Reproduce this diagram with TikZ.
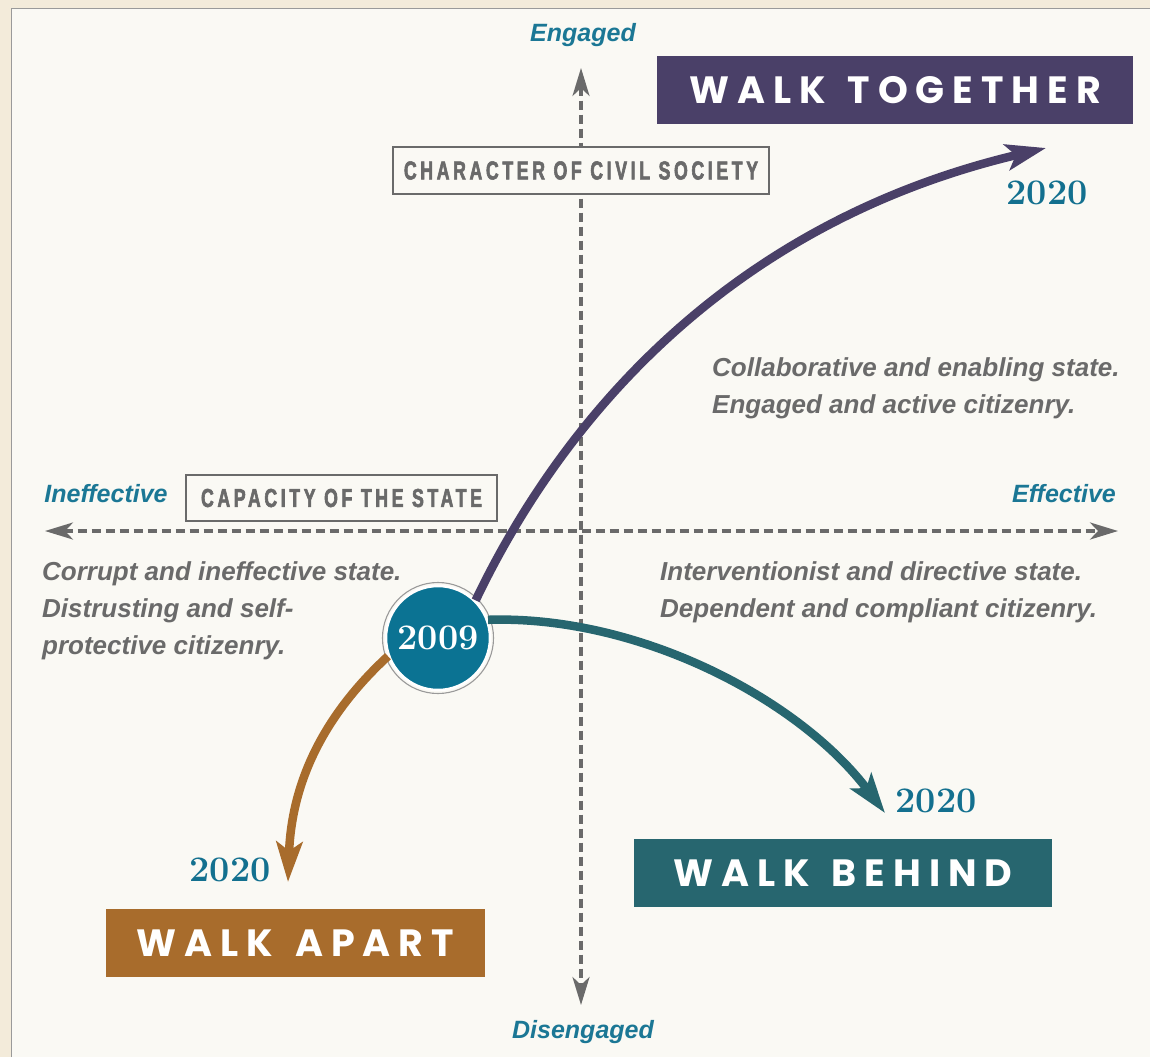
\documentclass[tikz,border=0pt]{standalone}
\usepackage{fontspec}
\newfontfamily\labelfont{Liberation Sans}
\newfontfamily\titlefont[LetterSpace=21]{Poppins}
\newfontfamily\boxfont[FakeStretch=0.68,FakeBold=2.2,LetterSpace=14]{Liberation Sans Bold}
\usetikzlibrary{arrows.meta}

\definecolor{paper}{HTML}{FAF9F4}
\definecolor{framebeige}{HTML}{F3EBDA}
\definecolor{framegray}{HTML}{9A9A9A}
\definecolor{axisgray}{HTML}{6A6A6A}
\definecolor{textgray}{HTML}{6A6A6A}
\definecolor{labelblue}{HTML}{1B7795}
\definecolor{yearblue}{HTML}{13708F}
\definecolor{circblue}{HTML}{0B7393}
\definecolor{togetherpurple}{HTML}{4A4068}
\definecolor{behindteal}{HTML}{27666F}
\definecolor{apartbrown}{HTML}{A86C2C}

\begin{document}
\begin{tikzpicture}[x=1pt,y=-1pt,
    axis/.style={draw=axisgray, line width=3.4pt, dash pattern=on 9pt off 5pt,
      {Stealth[length=28pt,width=17pt,inset=8pt]}-{Stealth[length=28pt,width=17pt,inset=8pt]}},
    axislabel/.style={text=labelblue, font=\labelfont\bfseries\itshape\fontsize{25}{30}\selectfont},
    dimbox/.style={draw=axisgray, line width=1.4pt, fill=paper, inner sep=0, text=textgray,
      font=\boxfont\fontsize{26}{30}\selectfont},
    desc/.style={anchor=north west, align=left, inner sep=0, text=textgray,
      font=\labelfont\bfseries\itshape\fontsize{26}{37}\selectfont},
    scenario/.style={minimum height=68pt, inner sep=0, text=white,
      font=\titlefont\bfseries\fontsize{38}{40}\selectfont},
    year/.style={text=yearblue, inner sep=0, font=\bfseries\fontsize{36}{40}\selectfont},
    trend/.style={line width=8.5pt, -{Stealth[length=40pt,width=26pt,inset=9pt]}}]
  \useasboundingbox (0,0) rectangle (1150,1057);

  % paper and frame
  \fill[framebeige] (0,0) rectangle (1150,1057);
  \fill[paper] (11,8) rectangle (1150,1057);
  \draw[framegray, line width=1.5pt] (11.5,1057) -- (11.5,8.5) -- (1150,8.5);

  % axes
  \coordinate (north) at (581,68);
  \coordinate (south) at (581,1005);
  \coordinate (west) at (45,531);
  \coordinate (east) at (1118,531);
  \draw[axis] (north) -- (south);
  \draw[axis] (west) -- (east);

  \node[axislabel] (engaged) at (583,35) {Engaged};
  \node[axislabel] (disengaged) at (583,1032) {Disengaged};
  \node[axislabel] (ineffective) at (106,494) {Ineffective};
  \node[axislabel] (effective) at (1064,494) {Effective};

  \node[dimbox, minimum width=376pt, minimum height=47pt] (character) at (581,170.5) {CHARACTER OF CIVIL SOCIETY};
  \node[dimbox, minimum width=311pt, minimum height=46pt] (capacity) at (341.5,498) {CAPACITY OF THE STATE};

  % quadrant descriptions
  \node[desc] (descTogether) at (712,357) {Collaborative and enabling state.\\Engaged and active citizenry.};
  \node[desc] (descBehind) at (660,561) {Interventionist and directive state.\\Dependent and compliant citizenry.};
  \node[desc] (descApart) at (42,561) {Corrupt and ineffective state.\\Distrusting and self-\\protective citizenry.};

  % scenarios
  \node[scenario, fill=togetherpurple, minimum width=476pt] (together) at (895,90) {WALK\hspace{6pt} TOGETHER};
  \node[scenario, fill=behindteal, minimum width=418pt] (behind) at (843,873) {WALK\hspace{6pt} BEHIND};
  \node[scenario, fill=apartbrown, minimum width=379pt] (apart) at (295.5,943) {WALK\hspace{6pt} APART};

  % starting point
  \node[circle, fill=circblue, draw=white, line width=2.5pt, minimum size=104pt, inner sep=0,
    text=white, font=\bfseries\fontsize{36}{40}\selectfont] (c2009) at (438,638) {2009};
  \draw[framegray, line width=1.1pt] (c2009.center) circle[radius=55.5];

  % trends to 2020
  \coordinate (tipTogether) at (1046,148);
  \coordinate (tipBehind) at (885,813);
  \coordinate (tipApart) at (288,882);
  \draw[trend, togetherpurple] (c2009.45) .. controls (545,455) and (700,230) .. (tipTogether);
  \draw[trend, behindteal] (c2009.20) .. controls (640,615) and (800,700) .. (tipBehind);
  \draw[trend, apartbrown] (c2009.200) .. controls (335,705) and (292,770) .. (tipApart);

  \node[year] (yrTogether) at (1047,193) {2020};
  \node[year] (yrBehind) at (936,801) {2020};
  \node[year] (yrApart) at (230,870) {2020};
\end{tikzpicture}
\end{document}
